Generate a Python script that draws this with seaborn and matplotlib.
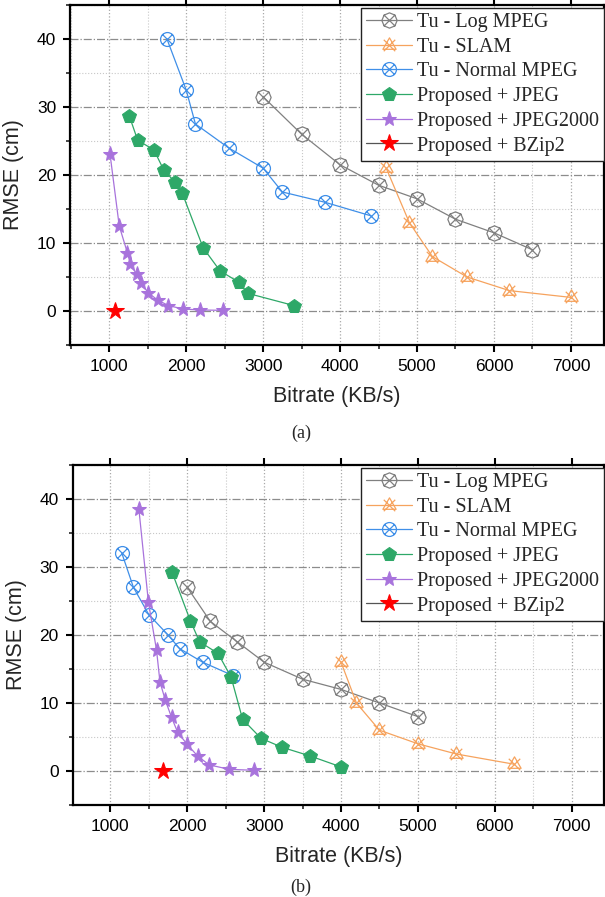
import numpy as np
import matplotlib
matplotlib.use('Agg')
import matplotlib.pyplot as plt
from matplotlib.path import Path
from matplotlib.ticker import MultipleLocator
import seaborn as sns

# ---- data ----
# (a)
a_log_x = [3000, 3500, 4000, 4500, 5000, 5500, 6000, 6500]
a_log_y = [31.5, 26.0, 21.5, 18.5, 16.5, 13.5, 11.5, 9.0]
a_slam_x = [4600, 4900, 5200, 5650, 6200, 7000]
a_slam_y = [21.0, 13.0, 8.0, 5.0, 3.0, 2.0]
a_norm_x = [1750, 2000, 2120, 2550, 3000, 3250, 3800, 4400]
a_norm_y = [40.0, 32.5, 27.5, 24.0, 21.0, 17.5, 16.0, 14.0]
a_jpeg_x = [1260, 1370, 1580, 1710, 1860, 1950, 2220, 2440, 2690, 2800, 3400]
a_jpeg_y = [28.7, 25.1, 23.7, 20.7, 18.9, 17.3, 9.3, 5.9, 4.2, 2.6, 0.8]
a_j2k_x = [1010, 1130, 1235, 1275, 1355, 1415, 1505, 1630, 1770, 1955, 2180, 2475]
a_j2k_y = [23.1, 12.5, 8.6, 6.9, 5.4, 4.1, 2.7, 1.6, 0.8, 0.3, 0.15, 0.1]
a_bzip_x = [1080]
a_bzip_y = [0.0]

# (b)
b_log_x = [2000, 2300, 2650, 3000, 3500, 4000, 4500, 5000]
b_log_y = [27.0, 22.0, 19.0, 16.0, 13.5, 12.0, 10.0, 8.0]
b_slam_x = [4000, 4200, 4500, 5000, 5500, 6250]
b_slam_y = [16.0, 10.0, 6.0, 4.0, 2.5, 1.0]
b_norm_x = [1150, 1300, 1500, 1750, 1900, 2200, 2600]
b_norm_y = [32.0, 27.0, 23.0, 20.0, 18.0, 16.0, 14.0]
b_jpeg_x = [1800, 2040, 2160, 2400, 2570, 2720, 2960, 3230, 3600, 4000]
b_jpeg_y = [29.3, 22.1, 19.0, 17.3, 13.8, 7.6, 4.8, 3.5, 2.2, 0.6]
b_j2k_x = [1370, 1495, 1600, 1645, 1715, 1795, 1875, 2000, 2135, 2285, 2545, 2870]
b_j2k_y = [38.6, 24.8, 17.8, 13.1, 10.4, 7.9, 5.7, 3.9, 2.2, 0.9, 0.25, 0.1]
b_bzip_x = [1690]
b_bzip_y = [0.0]

labels = ['Tu - Log MPEG', 'Tu - SLAM', 'Tu - Normal MPEG',
          'Proposed + JPEG', 'Proposed + JPEG2000', 'Proposed + BZip2']

sns.set_style('ticks')
plt.rcParams['font.family'] = ['Liberation Sans', 'DejaVu Sans']


def cross_with(shape):
    xs = Path([[-0.75, -0.75], [0.75, 0.75], [-0.75, 0.75], [0.75, -0.75]],
              [Path.MOVETO, Path.LINETO, Path.MOVETO, Path.LINETO])
    return Path.make_compound_path(shape, xs)


m_log = cross_with(Path.unit_regular_polygon(8))
m_slam = cross_with(Path.unit_regular_polygon(3))
m_norm = cross_with(Path.unit_circle())

styles = [
    dict(color='#808080', marker=m_log, ms=11, mfc='none', mec='#808080', mew=0.9),
    dict(color='#f6a35e', marker=m_slam, ms=11, mfc='none', mec='#f6a35e', mew=0.9),
    dict(color='#3f8fe8', marker=m_norm, ms=10, mfc='none', mec='#3f8fe8', mew=0.9),
    dict(color='#2ea868', marker='p', ms=10.5, mfc='#2ea868', mec='#2ea868'),
    dict(color='#a873dc', marker='*', ms=11, mfc='#a873dc', mec='#a873dc'),
    dict(color='#555555', marker='*', ms=13, mfc='#ff0000', mec='#ff0000'),
]


def panel(ax, series, xlim):
    for (x, y), lab, st in zip(series, labels, styles):
        sns.lineplot(x=x, y=y, ax=ax, sort=False, label=lab, lw=0.9,
                     linestyle='-', **st)
    ax.set_xlim(*xlim)
    ax.set_ylim(-5, 45)
    ax.xaxis.set_major_locator(MultipleLocator(1000))
    ax.xaxis.set_minor_locator(MultipleLocator(500))
    ax.yaxis.set_major_locator(MultipleLocator(10))
    ax.yaxis.set_minor_locator(MultipleLocator(5))
    ax.set_xticks([1000, 2000, 3000, 4000, 5000, 6000, 7000])
    ax.grid(which='major', axis='y', ls='-.', color='#8c8c8c', lw=0.9)
    ax.grid(which='major', axis='x', ls=':', color='#a8a8a8', lw=0.9)
    ax.grid(which='minor', ls=':', color='#c8c8c8', lw=0.8)
    for s in ax.spines.values():
        s.set_linewidth(1.6)
        s.set_color('black')
    ax.tick_params(which='major', direction='out', length=5, width=1.5,
                   labelsize=12.5, pad=5, colors='black')
    ax.tick_params(which='minor', direction='out', length=3, width=1.2)
    ax.tick_params(which='both', top=True, right=True)
    ax.tick_params(which='minor', top=False, right=False)
    ax.set_xlabel('Bitrate (KB/s)', fontsize=15.5, labelpad=9)
    ax.set_ylabel('RMSE (cm)', fontsize=15.5, labelpad=9)
    leg = ax.legend(loc='upper right', bbox_to_anchor=(1.0, 0.992),
                    borderaxespad=0, fancybox=False, framealpha=1,
                    edgecolor='#222222', handlelength=2.3, handletextpad=0.25,
                    labelspacing=0.28, borderpad=0.25,
                    prop={'family': 'Liberation Serif', 'size': 14.5})
    leg.get_frame().set_linewidth(1.0)


fig = plt.figure(figsize=(6.05, 8.97), dpi=100)
ax1 = fig.add_axes([70 / 605, 1 - 345 / 897, 534 / 605, 340 / 897])
ax2 = fig.add_axes([72.7 / 605, 1 - 805 / 897, 531.3 / 605, 340 / 897])

panel(ax1, [(a_log_x, a_log_y), (a_slam_x, a_slam_y), (a_norm_x, a_norm_y),
            (a_jpeg_x, a_jpeg_y), (a_j2k_x, a_j2k_y), (a_bzip_x, a_bzip_y)],
      (490, 7430))
panel(ax2, [(b_log_x, b_log_y), (b_slam_x, b_slam_y), (b_norm_x, b_norm_y),
            (b_jpeg_x, b_jpeg_y), (b_j2k_x, b_j2k_y), (b_bzip_x, b_bzip_y)],
      (510, 7420))

fig.text(301 / 605, 1 - 433 / 897, '(a)', ha='center', va='center',
         family='Liberation Serif', fontsize=13)
fig.text(301 / 605, 1 - 887 / 897, '(b)', ha='center', va='center',
         family='Liberation Serif', fontsize=13)

fig.savefig('out.png', dpi=100)
